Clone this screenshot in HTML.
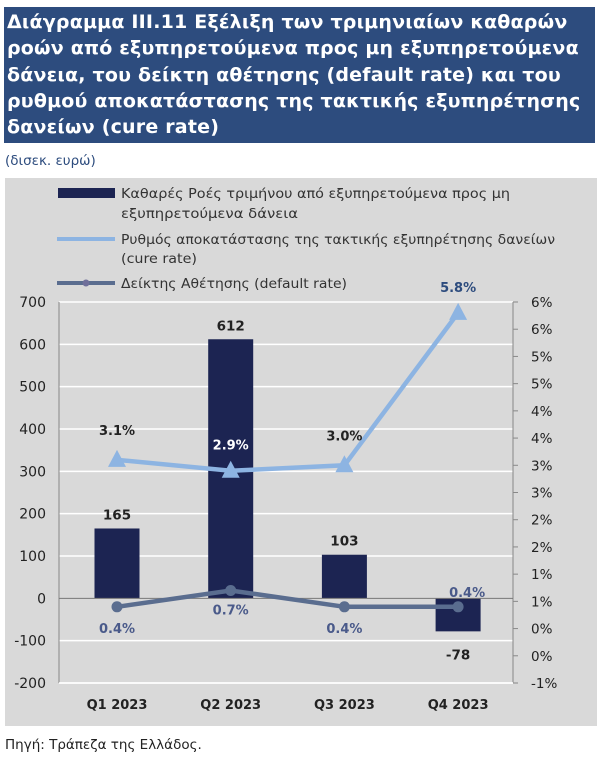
<!DOCTYPE html>
<html><head><meta charset="utf-8">
<style>
body{margin:0;width:600px;height:767px;background:#fff;font-family:"DejaVu Sans","Liberation Sans",sans-serif;overflow:hidden;position:relative}
#title{position:absolute;left:4px;top:7px;width:591px;height:136px;background:#2d4c7e;color:#fff;font-weight:bold;font-size:19px;line-height:26.3px;padding:2px 0 0 3px;box-sizing:border-box;white-space:nowrap;letter-spacing:0.2px;overflow:hidden}
#unit{position:absolute;left:5px;top:153px;font-size:13.5px;color:#2d4c7e}
#panel{position:absolute;left:5px;top:178px;width:592px;height:548px;background:#d9d9d9}
#src{position:absolute;left:5px;top:737px;font-size:13.5px;color:#222}
svg{position:absolute;left:0;top:0}
</style></head><body>
<div id="title">Διάγραμμα III.11 Εξέλιξη των τριμηνιαίων καθαρών<br>ροών από εξυπηρετούμενα προς μη εξυπηρετούμενα<br>δάνεια, του δείκτη αθέτησης (default rate) και του<br>ρυθμού αποκατάστασης της τακτικής εξυπηρέτησης<br>δανείων (cure rate)</div>
<div id="unit">(δισεκ. ευρώ)</div>
<div id="panel"></div>
<div id="src">Πηγή: Τράπεζα της Ελλάδος.</div>
<svg id="chart" width="600" height="767"></svg>
<script>
const categories=["Q1 2023","Q2 2023","Q3 2023","Q4 2023"];
const flows=[165,612,103,-78];
const cureRate=[3.1,2.9,3.0,5.8];
const defaultRate=[0.4,0.7,0.4,0.4];
const leftTicks=[700,600,500,400,300,200,100,0,-100,-200];
const rightTicks=[6,5.5,5,4.5,4,3.5,3,2.5,2,1.5,1,0.5,0,-0.5,-1];

const NS="http://www.w3.org/2000/svg";
const svg=document.getElementById('chart');
const top_=302,bot=683,xL=59,xR=513;
const yL=v=>top_+(700-v)/900*(bot-top_);
const yR=v=>top_+(6-v)/7*(bot-top_);
const xC=i=>117+i*113.7;
function mk(t,a,txt){const e=document.createElementNS(NS,t);for(const k in a)e.setAttribute(k,a[k]);if(txt!=null)e.textContent=txt;svg.appendChild(e);return e;}
const F='"DejaVu Sans","Liberation Sans",sans-serif';

leftTicks.forEach(v=>{
  if(v!==0){const g=mk('line',{x1:xL,x2:xR,y1:yL(v),y2:yL(v),stroke:'#fff','stroke-width':1.5});
  }
  const t=mk('text',{x:46,y:yL(v)+5,'text-anchor':'end','font-size':14,fill:'#222','font-family':F},String(v));
  
});
rightTicks.forEach(v=>{
  const tk=mk('line',{x1:xR,x2:xR+5,y1:yR(v),y2:yR(v),stroke:'#888'});
  
  const t=mk('text',{x:531,y:yR(v)+5,'font-size':13.5,fill:'#222','font-family':F},Math.round(v)+'%');
  
});
let ax=mk('line',{x1:xL,x2:xL,y1:top_,y2:bot,stroke:'#888'});

ax=mk('line',{x1:xR,x2:xR,y1:top_,y2:bot,stroke:'#888'});

ax=mk('line',{x1:xL,x2:xR,y1:bot,y2:bot,stroke:'#fff','stroke-width':1.5});


flows.forEach((v,i)=>{
  const y0=yL(0),y1=yL(v);
  const b=mk('rect',{x:xC(i)-22.5,y:Math.min(y0,y1),width:45,height:Math.abs(y1-y0),fill:'#1c2452'});
  
  const ly=v>=0?y1-9:y1+28;
  const t=mk('text',{x:xC(i),y:ly,'text-anchor':'middle','font-size':13.5,'font-weight':'bold',fill:'#222','font-family':F},String(v));
  
});
ax=mk('line',{x1:xL,x2:xR,y1:yL(0),y2:yL(0),stroke:'#777'});


const cp=cureRate.map((v,i)=>xC(i)+','+yR(v)).join(' ');
let l=mk('polyline',{points:cp,fill:'none',stroke:'#8db4e2','stroke-width':4.5});

cureRate.forEach((v,i)=>{
  const x=xC(i),y=yR(v);
  const m=mk('polygon',{points:`${x},${y-10} ${x-9},${y+7} ${x+9},${y+7}`,fill:'#8db4e2'});
  
  const white=i===1;
  const ty=i===3?y-21:(i===1?y-21:y-25);
  const t=mk('text',{x:x,y:ty,'text-anchor':'middle','font-size':13,'font-weight':'bold',fill:white?'#fff':(i===3?'#2d4c7e':'#222'),'font-family':F},v.toFixed(1)+'%');
  
});
const dp=defaultRate.map((v,i)=>xC(i)+','+yR(v)).join(' ');
l=mk('polyline',{points:dp,fill:'none',stroke:'#5a6d8f','stroke-width':4.5});

defaultRate.forEach((v,i)=>{
  const x=xC(i),y=yR(v);
  const m=mk('circle',{cx:x,cy:y,r:5.5,fill:'#5a6d8f'});
  
  const ty=i===3?y-10:(i===1?y+24:y+26);
  const t=mk('text',{x:i===3?x+9:x,y:ty,'text-anchor':'middle','font-size':13,'font-weight':'bold',fill:'#4a5a8a','font-family':F},v.toFixed(1)+'%');
  
});
categories.forEach((c,i)=>{
  const t=mk('text',{x:xC(i),y:709,'text-anchor':'middle','font-size':13,'font-weight':'bold',fill:'#222','font-family':F},c);
  
});
let s=mk('rect',{x:58,y:188,width:57,height:10,fill:'#1c2452'});

[['Καθαρές Ροές τριμήνου από εξυπηρετούμενα προς μη',198,389],['εξυπηρετούμενα δάνεια',218,177],['Ρυθμός αποκατάστασης της τακτικής εξυπηρέτησης δανείων',244,434],['(cure rate)',263,76],['Δείκτης Αθέτησης (default rate)',288,226]].forEach(([txt,y,w])=>{
  const t=mk('text',{x:121,y:y,'font-size':13.5,fill:'#333','font-family':F,textLength:w,lengthAdjust:'spacingAndGlyphs'},txt);
  
});
s=mk('line',{x1:57,x2:115,y1:239,y2:239,stroke:'#8db4e2','stroke-width':4});

s=mk('line',{x1:57,x2:115,y1:283,y2:283,stroke:'#5a6d8f','stroke-width':4});

s=mk('circle',{cx:86,cy:283,r:3.5,fill:'#6f6f9a'});

</script>
</body></html>
